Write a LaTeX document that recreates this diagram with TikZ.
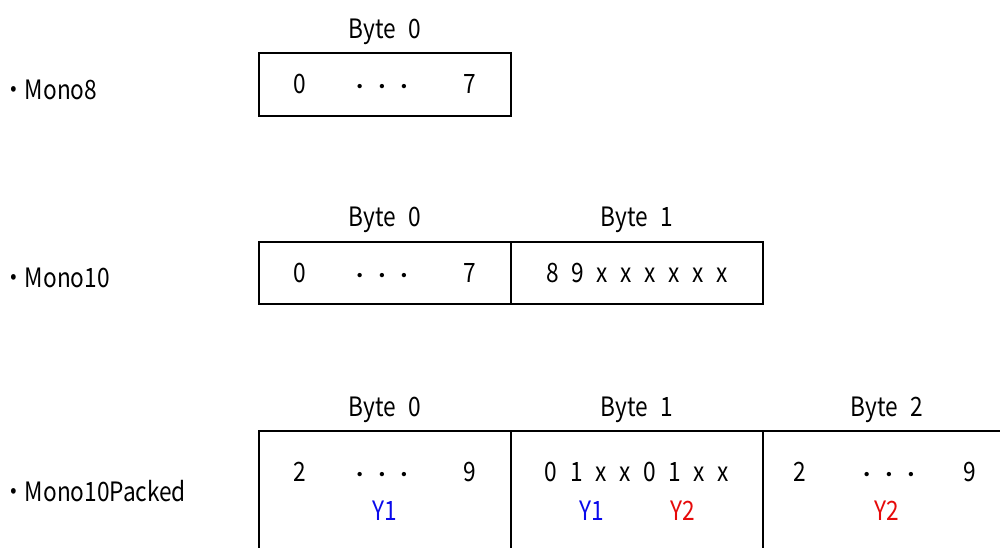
\documentclass[tikz,border=0pt]{standalone}
\usepackage{fontspec}
\setmainfont[WordSpace=2.5,FakeStretch=0.85]{Noto Sans CJK JP}
\usetikzlibrary{positioning}
\definecolor{yblue}{RGB}{10,10,235}
\definecolor{yred}{RGB}{230,10,10}
\tikzset{
  cell/.style={draw,line width=1.1pt,minimum width=189pt,inner sep=0pt},
  txt/.style={font=\fontsize{20}{24}\selectfont,inner sep=0pt,anchor=base},
  fmt/.style={txt,anchor=base west},
}
\newcommand{\dts}{{\boldmath$\cdotp\kern6pt\cdotp\kern6pt\cdotp$}}

\begin{document}
\begin{tikzpicture}[x=0.75pt,y=-0.75pt]
    \useasboundingbox (0,0) rectangle (1000,547);
    \clip (0,0) rectangle (1000,547);

    \node[fmt] (mono8) at (2,99) {・Mono8};
    \node[fmt] (mono10) at (2,287) {・Mono10};
    \node[fmt] (packed) at (2,501) {・Mono10Packed};

    \node[cell,minimum height=47.25pt] (a0) at (385,84.5) {};
    \node[cell,minimum height=46.5pt] (b0) at (385,273) {};
    \node[cell,minimum height=46.5pt] (b1) at (637,273) {};
    \foreach \n/\x in {c0/385,c1/637,c2/889}
        \node[cell,minimum height=105pt] (\n) at (\x,501) {};

    \node[txt] (a0t) at (385,38) {Byte 0};
    \foreach \n/\x in {0/385,1/637}
        \node[txt] (b\n t) at (\x,226) {Byte \n};
    \foreach \n/\x in {0/385,1/637,2/887}
        \node[txt] (c\n t) at (\x,416) {Byte \n};

    \foreach \r/\y in {a/93,b/282}{
        \node[txt] (\r lo) at (300,\y) {0};
        \node[txt] (\r dt) at (382,\y) {\dts};
        \node[txt] (\r hi) at (470,\y) {7};
    }
    \node[txt] (b1bits) at (637,282) {8 9 x x x x x x};

    \foreach \n/\x in {0/300,2/800}
        \node[txt] (c\n lo) at (\x,481) {2};
    \foreach \n/\x in {0/382,2/889}
        \node[txt] (c\n dt) at (\x,481) {\dts};
    \foreach \n/\x in {0/470,2/970}
        \node[txt] (c\n hi) at (\x,481) {9};
    \node[txt] (c1bits) at (637,481) {0 1 x x 0 1 x x};

    \node[txt,yblue] (c0y) at (385,520) {Y1};
    \node[txt,yblue] (c1y1) at (592,520) {Y1};
    \node[txt,yred] (c1y2) at (683,520) {Y2};
    \node[txt,yred] (c2y) at (887,520) {Y2};
\end{tikzpicture}
\end{document}
